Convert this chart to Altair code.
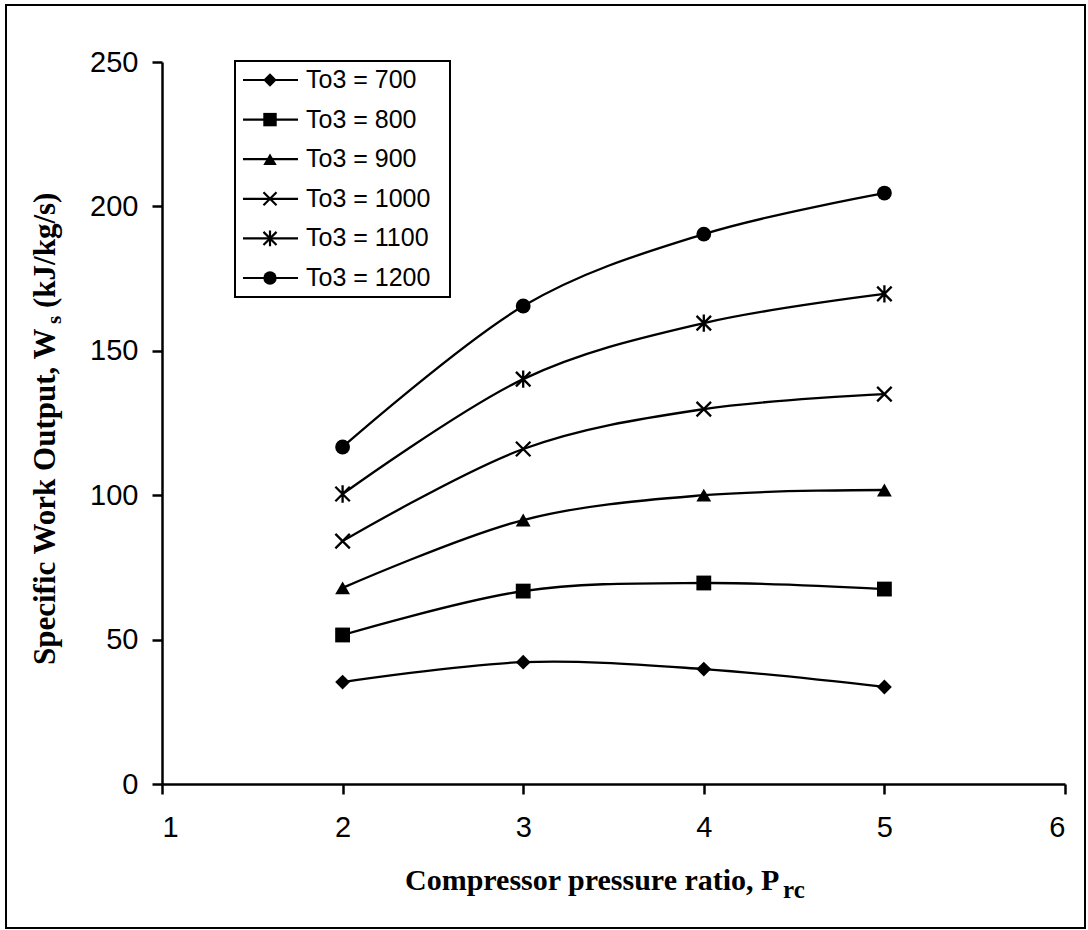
import altair as alt
import pandas as pd

# ---- data ----
pressure_ratio = [2, 3, 4, 5]
t700 = [35.3, 42.2, 39.8, 33.6]
t800 = [51.6, 66.8, 69.6, 67.5]
t900 = [67.9, 91.4, 100.0, 101.8]
t1000 = [84.1, 116.0, 129.8, 135.0]
t1100 = [100.4, 140.2, 159.6, 169.7]
t1200 = [116.7, 165.5, 190.4, 204.6]

series_labels = ["To3 = 700", "To3 = 800", "To3 = 900",
                 "To3 = 1000", "To3 = 1100", "To3 = 1200"]
series_values = [t700, t800, t900, t1000, t1100, t1200]

x_ticks = [1, 2, 3, 4, 5, 6]
y_ticks = [0, 50, 100, 150, 200, 250]

X_PATH = "M-1,-1L1,1M-1,1L1,-1"
AST_PATH = "M-1,-1L1,1M-1,1L1,-1M0,-1.2L0,1.2"
shapes = ["diamond", "square", "triangle-up", X_PATH, AST_PATH, "circle"]
filled_series = ["To3 = 700", "To3 = 800", "To3 = 900", "To3 = 1200"]
open_series = ["To3 = 1000", "To3 = 1100"]

rows = []
for lab, vals in zip(series_labels, series_values):
    for p, v in zip(pressure_ratio, vals):
        rows.append({"series": lab, "pr": p, "w": v})
df = pd.DataFrame(rows)
legend_df = pd.DataFrame({"series": series_labels})
one = pd.DataFrame({"k": [0]})

shape_scale = alt.Scale(domain=series_labels, range=shapes)

xenc = alt.X("pr:Q", scale=alt.Scale(domain=[1, 6], nice=False, zero=False),
             axis=alt.Axis(values=x_ticks, title=None, labelPadding=19, format="d"))
yenc = alt.Y("w:Q", scale=alt.Scale(domain=[0, 250], nice=False),
             axis=alt.Axis(values=y_ticks, title=None, labelPadding=14, format="d"))

base = alt.Chart(df)

lines = base.mark_line(color="black", strokeWidth=2.3, interpolate="cardinal").encode(
    x=xenc, y=yenc, detail="series:N")

pts_filled = base.transform_filter(
    alt.FieldOneOfPredicate(field="series", oneOf=filled_series)
).mark_point(filled=True, color="black", opacity=1, size=220).encode(
    x=xenc, y=yenc,
    shape=alt.Shape("series:N", scale=shape_scale, legend=None))

pts_open = base.transform_filter(
    alt.FieldOneOfPredicate(field="series", oneOf=open_series)
).mark_point(filled=False, color="black", opacity=1, size=210, strokeWidth=2.3).encode(
    x=xenc, y=yenc,
    shape=alt.Shape("series:N", scale=shape_scale, legend=None))

# ---- legend (manual, line through symbol) ----
ROW0, ROWSTEP = 18, 39.6
leg_base = alt.Chart(legend_df).transform_window(
    idx="row_number()"
).transform_calculate(
    ly=f"{ROW0} + (datum.idx - 1) * {ROWSTEP}"
)
leg_y = alt.Y("ly:Q", scale=None, axis=None)

leg_box = alt.Chart(one).mark_rect(fill="white", stroke="black", strokeWidth=2).encode(
    x=alt.value(73), x2=alt.value(288), y=alt.value(-1), y2=alt.value(235))
leg_rule = leg_base.mark_rule(color="black", strokeWidth=2.2).encode(
    x=alt.value(81), x2=alt.value(136), y=leg_y)
leg_pts_f = leg_base.transform_filter(
    alt.FieldOneOfPredicate(field="series", oneOf=filled_series)
).mark_point(filled=True, color="black", opacity=1, size=180).encode(
    x=alt.value(108), y=leg_y,
    shape=alt.Shape("series:N", scale=shape_scale, legend=None))
leg_pts_o = leg_base.transform_filter(
    alt.FieldOneOfPredicate(field="series", oneOf=open_series)
).mark_point(filled=False, color="black", opacity=1, size=170, strokeWidth=2.2).encode(
    x=alt.value(108), y=leg_y,
    shape=alt.Shape("series:N", scale=shape_scale, legend=None))
leg_text = leg_base.mark_text(align="left", baseline="middle", font="Liberation Sans",
                              fontSize=25, color="black").encode(
    x=alt.value(144), y=leg_y, text="series:N")

# ---- axis titles with subscripts ----
serif = "Liberation Serif"
xt1 = alt.Chart(one).mark_text(text="Compressor pressure ratio, P", align="left",
                               baseline="alphabetic", font=serif, fontWeight="bold",
                               fontSize=30, color="black").encode(
    x=alt.value(243), y=alt.value(828))
xt2 = alt.Chart(one).mark_text(text="rc", align="left", baseline="alphabetic",
                               font=serif, fontWeight="bold", fontSize=25,
                               color="black").encode(
    x=alt.value(621), y=alt.value(836))
yt1 = alt.Chart(one).mark_text(text="Specific Work Output, W", align="left",
                               baseline="alphabetic", angle=270, font=serif,
                               fontWeight="bold", fontSize=31, color="black").encode(
    x=alt.value(-107), y=alt.value(603))
yt2 = alt.Chart(one).mark_text(text="s", align="left", baseline="alphabetic",
                               angle=270, font=serif, fontWeight="bold",
                               fontSize=21, color="black").encode(
    x=alt.value(-101), y=alt.value(262))
yt3 = alt.Chart(one).mark_text(text="(kJ/kg/s)", align="left", baseline="alphabetic",
                               angle=270, font=serif, fontWeight="bold",
                               fontSize=31, color="black").encode(
    x=alt.value(-107), y=alt.value(246))

frame = alt.Chart(one).mark_rect(fill="transparent", stroke="black", strokeWidth=2).encode(
    x=alt.value(-156), x2=alt.value(923), y=alt.value(-57), y2=alt.value(866))

chart = alt.layer(
    lines, pts_filled, pts_open,
    leg_box, leg_rule, leg_pts_f, leg_pts_o, leg_text,
    xt1, xt2, yt1, yt2, yt3, frame
).properties(
    width=903, height=722,
    autosize=alt.AutoSizeParams(type="none"),
    padding={"left": 162, "top": 62, "right": 23, "bottom": 146},
    background="white",
).configure_view(
    strokeWidth=0
).configure_axis(
    grid=False,
    domainColor="black", domainWidth=2.5,
    tickColor="black", tickWidth=2.5, tickSize=10,
    labelFont="Liberation Sans", labelFontSize=29, labelColor="black",
)

chart.save("out.html", embed_options={"renderer": "svg", "actions": False})
